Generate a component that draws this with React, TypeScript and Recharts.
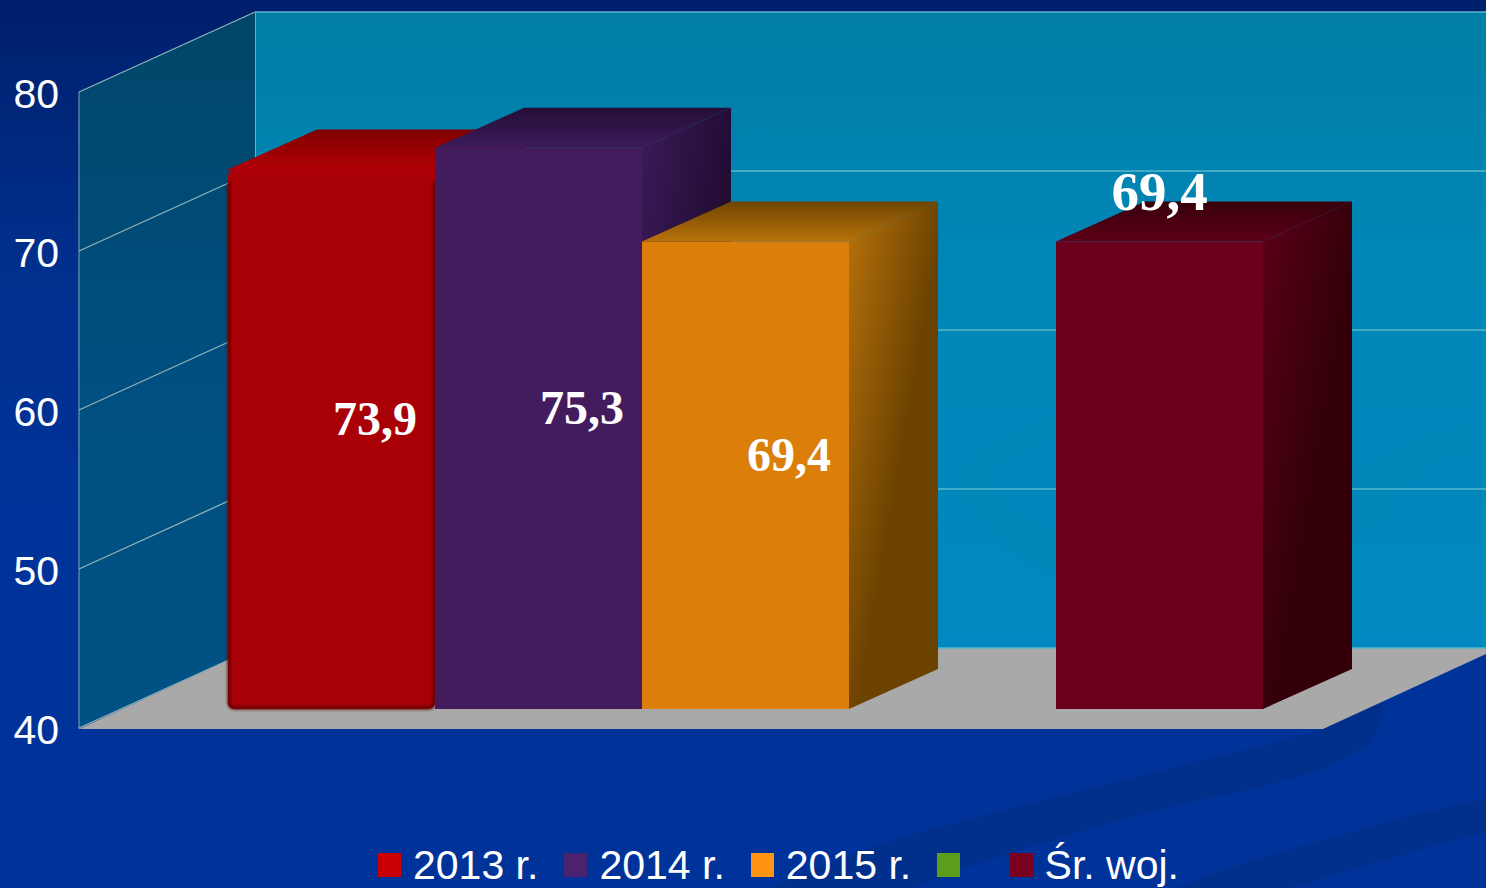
import { BarChart, Bar, XAxis, YAxis, CartesianGrid, Legend, LabelList } from 'recharts'

const categories = ['Wynik']
const seriesNames = ['2013 r.', '2014 r.', '2015 r.', '\u00a0', 'Śr. woj.']
const seriesValues = [73.9, 75.3, 69.4, null, 69.4]
const yTicks = [40, 50, 60, 70, 80]
const legendColors = ['#c80006', '#4c2270', '#ff9410', '#5a9e1a', '#7a0020']

const W = 1486
const H = 888
const sans = '"Liberation Sans", Arial, sans-serif'
const serif = '"Liberation Serif", "Times New Roman", serif'

// bar plane sits inside the floor; walls are offset from it
const PLOT_LEFT = 124
const FRONT = { dx: -45, dy: 19 }
const BACK = { dx: 131, dy: -61 }
const DEPTH = { dx: 89, dy: -40 }

const barStyles = [
  { face: '#a80006', id: 'red' },
  { face: '#431c5e', id: 'purple' },
  { face: '#db7e0a', id: 'orange' },
  { face: '#5a9e1a', id: 'green' },
  { face: '#6a001c', id: 'wine' },
]

const rows = categories.map(cat => {
  const row: Record<string, unknown> = { cat }
  seriesNames.forEach((_, i) => {
    row[`s${i}`] = seriesValues[i]
  })
  return row
})

function Shade({ id, light, dark, topDark }: { id: string; light: string; dark: string; topDark: string }) {
  return (
    <>
      <linearGradient id={`${id}-side`} x1="0" y1="0" x2="1" y2="1">
        <stop offset="0" stopColor={light} />
        <stop offset="0.55" stopColor={dark} />
      </linearGradient>
      <linearGradient id={`${id}-top`} x1="0" y1="0" x2="0" y2="1">
        <stop offset="0" stopColor={topDark} />
        <stop offset="1" stopColor={light} />
      </linearGradient>
    </>
  )
}

function Backdrop() {
  return (
    <svg width={W} height={H} style={{ position: 'absolute', left: 0, top: 0 }}>
      <defs>
        <linearGradient id="page" x1="0" y1="0" x2="0" y2="1">
          <stop offset="0" stopColor="#001f6c" />
          <stop offset="0.32" stopColor="#00318f" />
          <stop offset="0.6" stopColor="#00339a" />
        </linearGradient>
        <linearGradient id="back-wall" x1="0" y1="0" x2="0" y2="1">
          <stop offset="0" stopColor="#007ea5" />
          <stop offset="0.4" stopColor="#0087b8" />
          <stop offset="1" stopColor="#0089c0" />
        </linearGradient>
        <linearGradient id="side-wall" x1="0" y1="0" x2="0" y2="1">
          <stop offset="0" stopColor="#004668" />
          <stop offset="0.5" stopColor="#004f80" />
          <stop offset="1" stopColor="#005285" />
        </linearGradient>
        <Shade id="red" light="#b00006" dark="#5c0000" topDark="#820000" />
        <Shade id="purple" light="#3c1a58" dark="#210c33" topDark="#250e38" />
        <Shade id="orange" light="#b8720c" dark="#6b4200" topDark="#6f4500" />
        <Shade id="green" light="#5a9e1a" dark="#2d5010" topDark="#2d5010" />
        <Shade id="wine" light="#5c0018" dark="#33000a" topDark="#37000b" />
        <filter id="edge-blur" x="-5%" y="-5%" width="110%" height="110%">
          <feGaussianBlur stdDeviation="1.6" />
        </filter>
      </defs>
      <rect width={W} height={H} fill="url(#page)" />
      {/* swooshes of the slide template */}
      <path
        d="M770 888 C 810 870 860 850 900 838 C 980 815 1100 786 1124 780 C 1200 760 1270 745 1322 729 L 1382 700 C 1386 720 1378 738 1360 750 C 1335 768 1300 776 1274 783 C 1230 795 1170 806 1132 817 C 1080 832 1010 852 960 870 L 915 888 Z"
        fill="#002f8c"
      />
      <path d="M1176 888 C 1230 866 1300 846 1348 833 C 1400 818 1450 806 1486 798 L 1486 833 C 1420 848 1360 868 1290 888 Z" fill="#002f8c" />
      <polygon points="255,12 1486,12 1486,648 255,648" fill="url(#back-wall)" />
      <path d="M1060 417 C 1000 434 958 455 958 484 C 958 520 1010 550 1060 580 L 1060 530 C 1020 512 990 496 990 480 C 990 464 1020 452 1060 442 Z" fill="#0086b8" />
      <path d="M1350 467 C 1400 444 1440 430 1486 420 L 1486 448 C 1440 458 1410 480 1391 517 L 1352 540 Z" fill="#0086b8" />
      <polygon points="79,92 255,12 255,648 79,728" fill="url(#side-wall)" />
      <polygon points="79,729 255,648 1499,648 1323,729" fill="#a9a9a9" />
      <line x1={79} y1={92} x2={79} y2={729} stroke="#7fa6ad" strokeWidth={1} />
      <line x1={255.5} y1={12} x2={255.5} y2={648} stroke="#62b4c4" strokeWidth={1} />
    </svg>
  )
}

function WallLine(props: any) {
  const { x1, y1 } = props
  return (
    <g>
      <line
        x1={x1 + FRONT.dx}
        y1={y1 + FRONT.dy}
        x2={x1 + BACK.dx}
        y2={y1 + BACK.dy}
        stroke="#8fb4b9"
        strokeWidth={1.3}
      />
      <line x1={x1 + BACK.dx} y1={y1 + BACK.dy} x2={W} y2={y1 + BACK.dy} stroke="#58b8cd" strokeWidth={1.5} />
    </g>
  )
}

function AxisTick(props: any) {
  const { x, y, payload } = props
  return (
    <text
      x={x + FRONT.dx - 20 + 2}
      y={y + FRONT.dy + 16}
      textAnchor="end"
      fill="#ffffff"
      fontFamily={sans}
      fontSize={41}
    >
      {payload.value}
    </text>
  )
}

function Box3D(props: any) {
  const { x, y, width, height, index } = props
  if (height == null || !Number.isFinite(height)) return null
  const seriesIndex = props.seriesIndex ?? index
  const style = barStyles[seriesIndex]
  const right = x + width
  const bottom = y + height
  const rounded = seriesIndex === 0
  return (
    <g>
      <polygon
        points={`${right},${y} ${right + DEPTH.dx},${y + DEPTH.dy} ${right + DEPTH.dx},${bottom + DEPTH.dy} ${right},${bottom}`}
        fill={`url(#${style.id}-side)`}
      />
      <polygon
        points={`${x},${y} ${x + DEPTH.dx},${y + DEPTH.dy} ${right + DEPTH.dx},${y + DEPTH.dy} ${right},${y}`}
        fill={`url(#${style.id}-top)`}
        stroke={rounded ? `url(#${style.id}-top)` : 'none'}
        strokeLinejoin="round"
      />
      {rounded ? (
        <path
          d={`M${x + 7} ${y} H${right} V${bottom - 7} Q${right} ${bottom} ${right - 7} ${bottom} H${x + 7} Q${x} ${bottom} ${x} ${bottom - 7} V${y + 7} Q${x} ${y} ${x + 7} ${y} Z`}
          fill={style.face}
        />
      ) : (
        <rect x={x} y={y} width={width} height={height} fill={style.face} />
      )}
      {rounded && (
        <path
          d={`M${x + 1} ${y + 12} V${bottom - 7} Q${x + 1} ${bottom - 1} ${x + 7} ${bottom - 1} H${right - 7} Q${right - 1} ${bottom - 1} ${right - 1} ${bottom - 7} V${y + 12}`}
          fill="none"
          stroke="#5c0000"
          strokeWidth={3}
          filter="url(#edge-blur)"
        />
      )}
    </g>
  )
}

function ValueLabel(props: any) {
  const { x, y, width, height, value, onTop } = props
  if (value == null) return null
  const cx = onTop ? x + width / 2 : x + width / 2 + 43.5
  const cy = onTop ? y - 32 : y + height / 2 - 4
  return (
    <text
      x={cx}
      y={cy}
      textAnchor="middle"
      fill="#ffffff"
      fontFamily={serif}
      fontWeight="bold"
      fontSize={onTop ? 55 : 48}
    >
      {String(value).replace('.', ',')}
    </text>
  )
}

function LegendRow({ payload }: any) {
  return (
    <div style={{ display: 'flex', alignItems: 'center', gap: 26, paddingLeft: 378, height: 50 }}>
      {(payload ?? []).map((item: any, i: number) => (
        <div key={i} style={{ display: 'flex', alignItems: 'center', gap: 12 }}>
          <span style={{ width: 23, height: 24, background: legendColors[i], display: 'inline-block' }} />
          <span style={{ color: '#fff', fontFamily: sans, fontSize: 41, lineHeight: '50px', whiteSpace: 'pre' }}>
            {item.value}
          </span>
        </div>
      ))}
    </div>
  )
}

export default function App() {
  return (
    <div style={{ position: 'absolute', left: 0, top: 0, width: W, height: H, overflow: 'hidden' }}>
      <Backdrop />
      <div style={{ position: 'absolute', left: 0, top: 0 }}>
        <BarChart
          width={W}
          height={H}
          data={rows}
          margin={{ top: 73, right: 118, left: 0, bottom: 179 }}
          barCategoryGap={104}
          barGap={0}
        >
          <CartesianGrid vertical={false} horizontal={(p: any) => <WallLine key={p.key} {...p} />} />
          <XAxis dataKey="cat" hide />
          <YAxis
            domain={[40, 80]}
            ticks={yTicks}
            width={PLOT_LEFT}
            axisLine={false}
            tickLine={false}
            tickSize={0}
            tick={(p: any) => <AxisTick {...p} />}
            interval={0}
          />
          <Legend
            align="center"
            verticalAlign="middle"
            itemSorter={null as any}
            wrapperStyle={{ left: 0, top: 840, width: W }}
            content={(p: any) => <LegendRow {...p} />}
          />
          {seriesNames.map((name, i) => (
            <Bar
              key={name}
              dataKey={`s${i}`}
              name={name}
              fill={legendColors[i]}
              isAnimationActive={false}
              shape={(p: any) => <Box3D {...p} seriesIndex={i} />}
            >
              <LabelList
                dataKey={`s${i}`}
                content={(p: any) => <ValueLabel {...p} onTop={i === 4} />}
              />
            </Bar>
          ))}
        </BarChart>
      </div>
    </div>
  )
}
